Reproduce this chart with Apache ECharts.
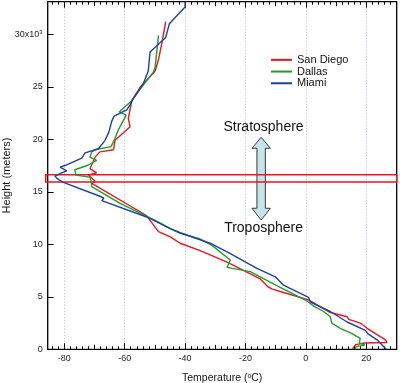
<!DOCTYPE html>
<html><head><meta charset="utf-8">
<script src="https://cdn.jsdelivr.net/npm/echarts@6/dist/echarts.min.js"></script>
<style>html,body{margin:0;padding:0;background:#fff}#c{width:400px;height:383px}</style>
</head><body><div id="c"></div>
<script>
// ---- data (temperature °C, height km) ----
const seriesNames = ['San Diego', 'Dallas', 'Miami'];
const sanDiego = [
  [15.5,0],[15.9,0.25],[16.6,0.45],[19.3,0.6],[26.9,0.65],[26.4,0.9],[23.6,1.4],[20.3,2.0],[18.1,2.5],
  [14.2,2.85],[13.7,3.1],[8.1,3.5],[0.9,4.7],[-8.5,5.5],[-11.3,5.75],[-12.7,6.0],[-12.2,6.15],[-15.1,6.7],
  [-26.1,8.3],[-35.0,9.4],[-41.6,10.1],[-44.9,10.7],[-48.8,11.2],[-52.7,12.7],[-54.9,13.1],[-70.9,15.8],
  [-71.5,15.85],[-69.8,16.0],[-72.0,16.6],[-69.3,16.8],[-71.5,17.2],[-70.4,17.9],[-69.8,18.3],[-68.2,18.8],
  [-63.7,19.0],[-63.2,19.9],[-58.2,21.2],[-58.8,22.0],[-57.6,23.7],[-54.9,24.95],[-49.9,26.5],[-48.8,27.6],
  [-47.7,29.1],[-46.4,31.2]
];
const dallas = [
  [16.3,0],[16.6,0.25],[19.6,0.4],[17.7,0.6],[18.0,1.05],[15.3,1.5],[11.4,2.0],[8.6,2.5],[8.1,3.1],[5.9,3.6],
  [2.6,4.1],[0.4,4.6],[-8.5,5.9],[-18.4,7.4],[-26.1,7.8],[-25.0,8.5],[-31.1,9.9],[-35.0,10.5],[-41.6,11.05],
  [-44.9,11.5],[-49.4,12.2],[-61.5,13.9],[-70.9,15.5],[-71.2,16.1],[-71.5,16.4],[-76.2,16.6],[-76.5,17.1],
  [-72.0,17.55],[-69.3,18.0],[-71.5,18.3],[-70.9,18.8],[-69.8,19.0],[-64.5,19.3],[-63.2,20.1],[-62.1,20.9],
  [-59.5,22.3],[-61.8,22.6],[-57.6,23.7],[-54.3,25.0],[-50.5,26.4],[-49.9,26.9],[-48.8,29.9]
];
const miami = [
  [26.6,0],[23.6,0.9],[20.5,1.5],[19.7,1.8],[13.7,2.6],[8.1,3.6],[1.5,4.5],[0.9,4.95],[-7.4,6.1],[-10.1,6.9],
  [-16.2,7.7],[-25.0,9.1],[-31.7,10.1],[-41.6,11.1],[-44.9,11.5],[-52.7,12.6],[-67.6,14.15],[-66.9,14.4],
  [-68.0,14.55],[-80.3,15.9],[-81.6,16.1],[-82.5,16.3],[-83.1,16.5],[-80.9,16.8],[-79.2,17.0],[-81.4,17.35],
  [-79.8,17.5],[-74.2,18.2],[-73.1,18.7],[-68.7,19.1],[-66.5,19.9],[-65.2,20.7],[-64.3,21.7],[-63.5,22.2],
  [-59.3,22.8],[-58.2,23.3],[-57.3,23.8],[-53.8,25.3],[-52.2,26.5],[-51.6,28.3],[-46.4,29.7],[-45.2,31.0],
  [-40.0,32.6],[-40.0,33.1]
];
const xLabelValues = [-80, -60, -40, -20, 0, 20];
const xMidTickValues = [-70, -50, -30, -10, 10];
const yLabelValues = [0, 5, 10, 15, 20, 25, 30];
const xRange = [-85.5, 30.1];
const yRange = [0, 33.1];
const tropopause = [15.93, 16.63];
const arrowX = -14.8;
const arrowY = [20.19, 19.14, 13.43, 12.31]; // top tip, head base, head base, bottom tip
const annotations = [{ text: 'Stratosphere', x: -14.0, y: 21.2 }, { text: 'Troposphere', x: -14.0, y: 11.5 }];

const xMinorTickValues = [];
for (let v = -84; v <= 30; v += 2) xMinorTickValues.push(v);

const colors = ['#e8161d', '#1a9f2b', '#1f3fa6'];
const FONT = 'Liberation Sans, Arial, sans-serif';

const chart = echarts.init(document.getElementById('c'));

function xAx(pos, ticks, len, withLabel, withSplit) {
  return {
    type: 'value', position: pos, min: xRange[0], max: xRange[1],
    axisLine: { show: false, onZero: false },
    axisTick: { show: true, inside: true, length: len, customValues: ticks, lineStyle: { color: '#000', width: 1 } },
    axisLabel: withLabel ? { show: true, customValues: xLabelValues, fontSize: 9, color: '#222', fontFamily: FONT, margin: 5 } : { show: false },
    splitLine: withSplit ? { show: true, lineStyle: { color: '#aeb6dc', type: [1, 2], width: 1 } } : { show: false },
    name: withLabel ? 'Temperature ({s|o}C)' : '',
    nameLocation: 'middle', nameGap: 23, nameMoveOverlap: false,
    nameTextStyle: { fontSize: 10.5, color: '#111', fontFamily: FONT,
      rich: { s: { fontSize: 7, verticalAlign: 'top', lineHeight: 8, color: '#111', fontFamily: FONT } } }
  };
}

const option = {
  animation: false,
  grid: { left: 47.7, right: 3.3, top: 1.7, bottom: 33.7, show: true, borderColor: '#000', borderWidth: 1.3, backgroundColor: 'transparent', outerBoundsMode: 'none', containLabel: false },
  legend: {
    data: seriesNames, orient: 'vertical', left: 271, top: 54, itemWidth: 21, itemHeight: 2, itemGap: 0,
    icon: 'rect', textStyle: { fontSize: 11, color: '#111', fontFamily: FONT, lineHeight: 11.7 }, padding: 0
  },
  xAxis: [
    xAx('bottom', xLabelValues, 6, true, true),
    xAx('bottom', xMidTickValues, 4.5, false, false),
    xAx('bottom', xMinorTickValues, 3, false, false),
    xAx('top', xLabelValues, 6, false, false),
    xAx('top', xMidTickValues, 4.5, false, false),
    xAx('top', xMinorTickValues, 3, false, false)
  ],
  yAxis: [{
    type: 'value', position: 'left', min: yRange[0], max: yRange[1],
    axisLine: { show: false, onZero: false },
    axisTick: { show: true, inside: true, length: 6, customValues: yLabelValues, lineStyle: { color: '#000' } },
    axisLabel: { customValues: yLabelValues, fontSize: 9, color: '#222', fontFamily: FONT, margin: 5,
      formatter: v => v === 30 ? '{n|30x10}{s|3}' : '{n|' + v + '}',
      rich: { n: { fontSize: 9, color: '#222', fontFamily: FONT, lineHeight: 10 }, s: { fontSize: 6, color: '#222', fontFamily: FONT, verticalAlign: 'top', lineHeight: 10, padding: [0, 0, 4, 0] } } },
    splitLine: { show: false },
    name: 'Height (meters)', nameLocation: 'middle', nameGap: 35, nameRotate: 90, nameMoveOverlap: false,
    nameTextStyle: { fontSize: 11, color: '#111', fontFamily: FONT }
  }],
  series: [sanDiego, dallas, miami].map((d, i) => ({
    name: seriesNames[i], type: 'line', data: d, symbol: 'none', z: 5,
    lineStyle: { color: colors[i], width: 1.4 }, itemStyle: { color: colors[i] }
  }))
};
chart.setOption(option);

// annotations placed through the chart's own scales
const P = (x, y) => chart.convertToPixel({ xAxisIndex: 0, yAxisIndex: 0 }, [x, y]);
const cx = P(arrowX, 0)[0];
const headHalf = 9.2, shaftHalf = 4.2;
const yTop = P(0, arrowY[0])[1], yHb1 = P(0, arrowY[1])[1], yHb2 = P(0, arrowY[2])[1], yBot = P(0, arrowY[3])[1];
const arrowPts = [
  [cx, yTop], [cx + headHalf, yHb1], [cx + shaftHalf, yHb1], [cx + shaftHalf, yHb2], [cx + headHalf, yHb2],
  [cx, yBot], [cx - headHalf, yHb2], [cx - shaftHalf, yHb2], [cx - shaftHalf, yHb1], [cx - headHalf, yHb1]
];
const bandTop = P(xRange[0], tropopause[1]), bandBot = P(xRange[1], tropopause[0]);
const graphics = [
  { type: 'polygon', z: 3, shape: { points: arrowPts }, style: { fill: '#c6e4ea', stroke: '#3a3a3a', lineWidth: 1 } },
  { type: 'rect', z: 4, shape: { x: bandTop[0] - 2, y: bandTop[1], width: bandBot[0] - bandTop[0] + 2, height: bandBot[1] - bandTop[1] },
    style: { fill: 'none', stroke: '#e8161d', lineWidth: 1.5 } }
];
annotations.forEach(a => {
  const p = P(a.x, a.y);
  graphics.push({ type: 'text', z: 6, x: p[0], y: p[1], style: { text: a.text, fontSize: 14, fill: '#111', fontFamily: FONT, align: 'center', verticalAlign: 'middle' } });
});
chart.setOption({ graphic: graphics });
</script>
</body></html>
